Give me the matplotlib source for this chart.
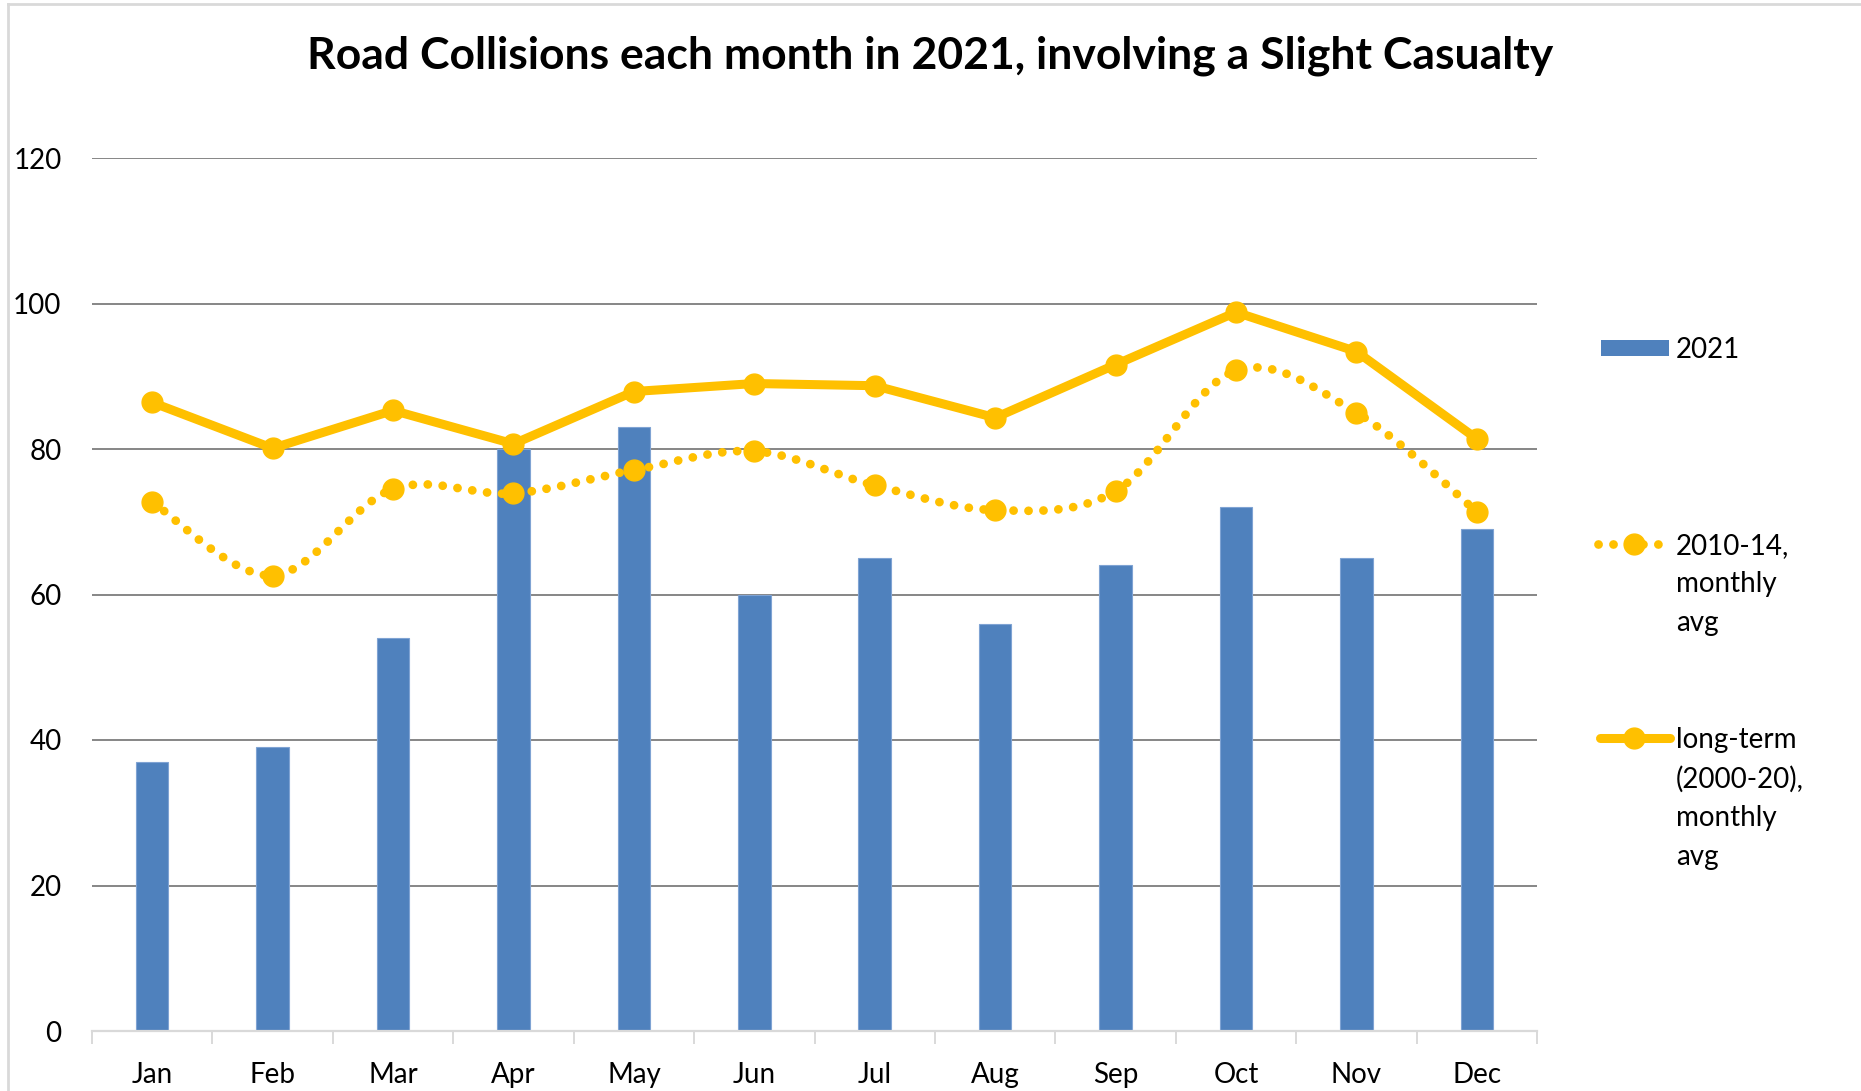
import matplotlib
matplotlib.use("Agg")
import matplotlib.pyplot as plt
import numpy as np
from matplotlib.lines import Line2D
from matplotlib.patches import PathPatch, Rectangle
from matplotlib.path import Path

plt.rcParams["font.family"] = ["Lato", "DejaVu Sans"]

# data
months = ["Jan", "Feb", "Mar", "Apr", "May", "Jun",
          "Jul", "Aug", "Sep", "Oct", "Nov", "Dec"]
collisions_2021 = [37, 39, 54, 80, 83, 60, 65, 56, 64, 72, 65, 69]
avg_2010_14 = [72.7, 62.6, 74.5, 73.9, 77.1, 79.7, 75.0, 71.6, 74.2, 90.8, 85.0, 71.4]
avg_long_term = [86.4, 80.1, 85.3, 80.7, 87.9, 89.0, 88.7, 84.3, 91.6, 98.8, 93.4, 81.4]
y_ticks = [0, 20, 40, 60, 80, 100, 120]

BLUE = "#4F81BD"
GOLD = "#FFC000"
GRID = "#868686"
W, H = 1861, 1091


def smooth_path(x, y):
    """Excel-style smoothed line: cubic Bezier through every point."""
    pts = np.column_stack([x, y]).astype(float)
    n = len(pts)
    verts = [pts[0]]
    codes = [Path.MOVETO]
    for i in range(n - 1):
        p0 = pts[i - 1] if i > 0 else pts[i]
        p1, p2 = pts[i], pts[i + 1]
        p3 = pts[i + 2] if i + 2 < n else pts[i + 1]
        c1 = p1 + (p2 - p0) / 6.0
        c2 = p2 - (p3 - p1) / 6.0
        verts += [c1, c2, p2]
        codes += [Path.CURVE4] * 3
    return Path(verts, codes)


fig = plt.figure(figsize=(W / 100, H / 100), dpi=100)
ax = fig.add_axes([92 / W, 1 - 1031 / H, (1537 - 92) / W, (1031 - 158) / H])

x = np.arange(len(months))
ax.bar(x, collisions_2021, width=0.27, color=BLUE, edgecolor="#7fa3d3",
       linewidth=0.8, zorder=2)

# 2010-14 average: smoothed dotted line
patch = PathPatch(smooth_path(x, avg_2010_14), facecolor="none", edgecolor=GOLD,
                  linewidth=6.3, linestyle=(0, (0.01, 1.7)), capstyle="round",
                  zorder=3)
ax.add_patch(patch)
ax.plot(x, avg_2010_14, "o", color=GOLD, markersize=15, zorder=4)

# long-term average: straight solid line
ax.plot(x, avg_long_term, "-o", color=GOLD, linewidth=6.5, markersize=15,
        solid_capstyle="round", zorder=4)

ax.set_xlim(-0.5, len(months) - 0.5)
ax.set_ylim(0, 120)
ax.set_yticks(y_ticks)
ax.yaxis.grid(True, color=GRID, linewidth=1.4)
ax.set_axisbelow(True)
ax.tick_params(axis="y", length=0, pad=22, labelsize=20)

ax.set_xticks(x)
ax.set_xticklabels(months)
ax.set_xticks(np.arange(-0.5, len(months)), minor=True)
ax.tick_params(axis="x", which="major", length=0, pad=22, labelsize=20)
ax.tick_params(axis="x", which="minor", length=9, width=1.4, color="#d9d9d9")
for s in ["top", "right", "left"]:
    ax.spines[s].set_visible(False)
ax.spines["bottom"].set_color("#d9d9d9")
ax.spines["bottom"].set_linewidth(1.6)

fig.text(0.5, 1 - 56 / H, "Road Collisions each month in 2021, involving a Slight Casualty",
         ha="center", va="center", fontsize=32, fontweight="bold")

# chart frame (top and left edges are visible in the reference)
fig.add_artist(Line2D([8 / W, 8 / W], [0, 1 - 4 / H], color="#d9d9d9", lw=2))
fig.add_artist(Line2D([8 / W, 1], [1 - 4 / H, 1 - 4 / H], color="#d9d9d9", lw=2))

# legend, drawn by hand to keep Excel's layout
fx = lambda px: px / W
fy = lambda py: 1 - py / H
fig.add_artist(Rectangle((fx(1601), fy(356)), fx(1669) - fx(1601), 16 / H,
                         facecolor=BLUE, edgecolor="none"))
fig.text(fx(1676), fy(350), "2021", ha="left", va="center", fontsize=20)

fig.add_artist(Line2D([fx(1598), fx(1671)], [fy(544), fy(544)], color=GOLD,
                      lw=6.3, linestyle=(0, (0.01, 1.7)), dash_capstyle="round"))
fig.add_artist(Line2D([fx(1634)], [fy(544)], marker="o", color=GOLD, markersize=15))
fig.text(fx(1676), fy(533), "2010-14,\nmonthly\navg", ha="left", va="top",
         fontsize=20, linespacing=1.59)

fig.add_artist(Line2D([fx(1600), fx(1670)], [fy(738), fy(738)], color=GOLD,
                      lw=6.5, solid_capstyle="round"))
fig.add_artist(Line2D([fx(1634)], [fy(738)], marker="o", color=GOLD, markersize=15))
fig.text(fx(1676), fy(727), "long-term\n(2000-20),\nmonthly\navg", ha="left", va="top",
         fontsize=20, linespacing=1.59)

fig.savefig("out.png", dpi=100, facecolor="white")
